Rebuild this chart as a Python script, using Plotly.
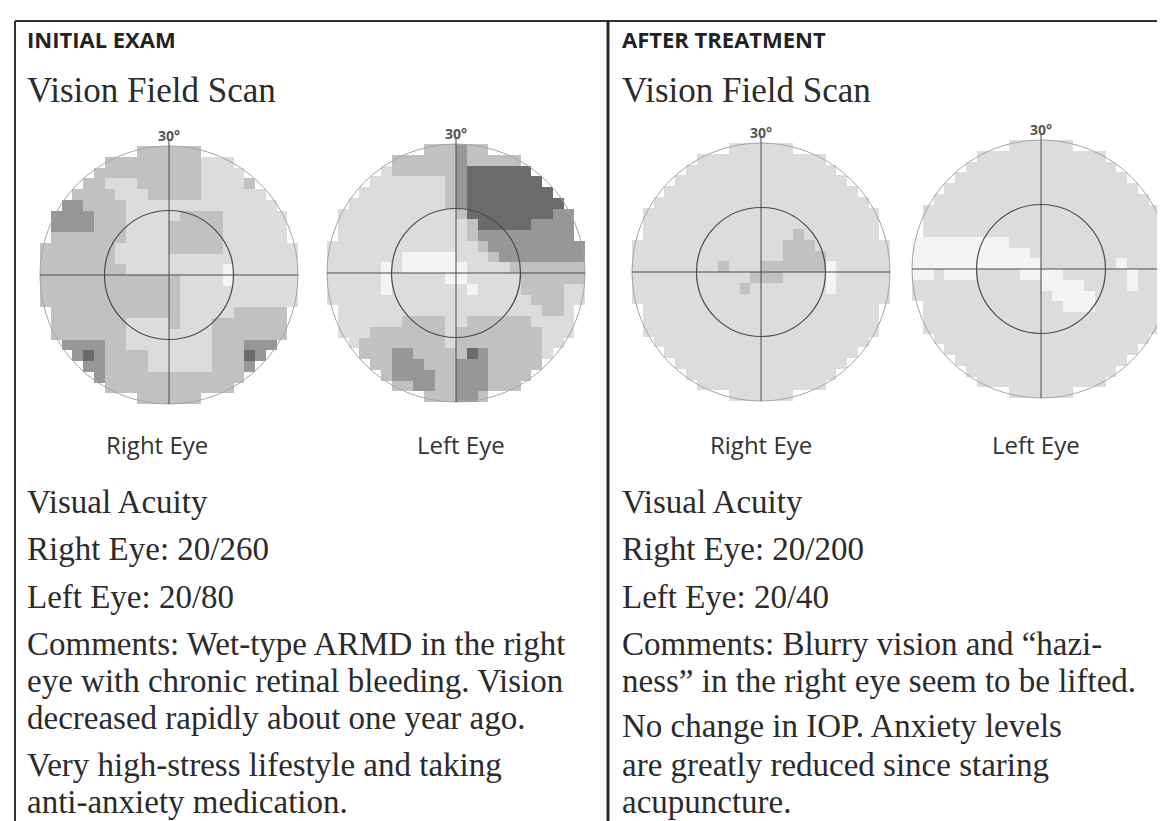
import plotly.graph_objects as go

W, H = 1165, 821

# grey levels of the field scans, lightest to darkest
levels = ["W", "L", "M", "D", "K"]
level_colors = ["#f4f4f4", "#dcdcdc", "#c1c1c1", "#979797", "#6b6b6b"]

# 24 x 24 sensitivity grids, read row by row (top to bottom)
initial_right = [
    "MMMMMMMMMMMMMMMLLLLLLLLL",
    "MMMMMMMMMMMMMMMLLLLLLLLL",
    "MMMMMMMMMMMMMMMLLLLLLLLL",
    "MMMMMMLLLMMMMMMLLLLMLLLL",
    "MMMMMMMLLLMMMMMLLLLLLLLL",
    "MMDDMMMMLLLLLLLLLLLLLLLL",
    "MDDDDMMMLLLLLMMMMLLLLLLL",
    "MDDDDMMMLLLLMMMMMLLLLLLL",
    "MMMMMMMMLLLLMMMMMLLLLLLL",
    "MMMMMMMLLLLLMMMMMLLLLLLL",
    "MMMMMMMLLLLLLLLLLLLLLLLL",
    "MMMMMMMMLLLLLLLLLWLLLLLL",
    "MMMMMMMMMMMMMLLLLWLLLLLL",
    "MMMMMMMMMMMMMLLLLLLLLLLL",
    "MMMMMMMMMMMMMLLLLLLLLLLL",
    "MMMMMMMMMMMMMLLLLLMMMMMM",
    "MMMMMMMMLLLLMLLLMMMMMMMM",
    "MMMMMMMMLLLLLLLLMMMMMMMM",
    "MDDDDDMMLLLLLLLLMMMDDDDM",
    "MMDDKDMMMMLLLLLLMMMKDDMM",
    "MMMDDDMMMMLLLLLLMMMDDMMM",
    "MMMMMDMMMMMMMMMMMMMMMMMM",
    "MMMMMMMMMMMMMMMMMMMMMMMM",
    "MMMMMMMMMMMMMMMMMMMMMMMM",
]

initial_left = [
    "MMMMMMMMMMMMDMMMMMMMMMMM",
    "LLLLLLMMMMMMDMMMMMLLLLLL",
    "LLLLLLMMMMMMDKKKKKKLLLLL",
    "LLLLLLLLLLLMDKKKKKKKLLLL",
    "LLLLLLLLLLLMDKKKKKKKKLLL",
    "LLLLLLLLLLLMDKKKKKKKKKLL",
    "LLLLLLLLLLLLMKKKKKKKKDDD",
    "LLLLLLLLLLLLLMKKKKKDDDDD",
    "LLLLLLLLLLLLLMDDDDDDDDDD",
    "LLLLLLLLLLLLLLMDDDDDDDDD",
    "LLLLLLLWWWWWLLLMDDDDDDDD",
    "LLLLLWLWWWWWWLLLLMMMMMMM",
    "LLLLLWLLLLLWWLLLLLMMMMMM",
    "LLLLLWLLLLLLLWLLLLMMMMLL",
    "LLLLLLLLLLLLLLLLLLLMMMLL",
    "LLLLLLLLLLLLLLLLLLLLMMLL",
    "LLLLLLLMMMMLLMMMMMMLLLLL",
    "LLLLMMMMMMMLMMMMMMMMLLLL",
    "LLLMMMMMMMMLMMMMMMMMLLLL",
    "LLLMMMDDMMMMMKDMMMMMLLLL",
    "LLLMMMDDDMMMDDDMMMMMLLLL",
    "LLLLLMDDDDMMDDDMMMMLLLLL",
    "LLLLLLMMDDMMDDDMMMLLLLLL",
    "MMMMMMMMMMMMDDMMMMMMMMMM",
]

after_right = [
    "LLLLLLLLLLLLLLLLLLLLLLLL",
    "LLLLLLLLLLLLLLLLLLLLLLLL",
    "LLLLLLLLLLLLLLLLLLLLLLLL",
    "LLLLLLLLLLLLLLLLLLLLLLLL",
    "LLLLLLLLLLLLLLLLLLLLLLLL",
    "LLLLLLLLLLLLLLLLLLLLLLLL",
    "LLLLLLLLLLLLLLLLLLLLLLLL",
    "LLLLLLLLLLLLLLLLLLLLLLLL",
    "LLLLLLLLLLLLLLLMLLLLLLLL",
    "LLLLLLLLLLLLLLMMMLLLLLLL",
    "LLLLLLLLLLLLLLMMMMLLLLLL",
    "LLLLLLLLMLLLMMMMMMWLLLLL",
    "LLLLLLLLLLLMMMLLLLWLLLLL",
    "LLLLLLLLLLMLLLLLLLWLLLLL",
    "LLLLLLLLLLLLLLLLLLLLLLLL",
    "LLLLLLLLLLLLLLLLLLLLLLLL",
    "LLLLLLLLLLLLLLLLLLLLLLLL",
    "LLLLLLLLLLLLLLLLLLLLLLLL",
    "LLLLLLLLLLLLLLLLLLLLLLLL",
    "LLLLLLLLLLLLLLLLLLLLLLLL",
    "LLLLLLLLLLLLLLLLLLLLLLLL",
    "LLLLLLLLLLLLLLLLLLLLLLLL",
    "LLLLLLLLLLLLLLLLLLLLLLLL",
    "LLLLLLLLLLLLLLLLLLLLLLLL",
]

after_left = [
    "LLLLLLLLLLLLLLLLLLLLLLLL",
    "LLLLLLLLLLLLLLLLLLLLLLLL",
    "LLLLLLLLLLLLLLLLLLLLLLLL",
    "LLLLLLLLLLLLLLLLLLLLLLLL",
    "LLLLLLLLLLLLLLLLLLLLLLLL",
    "LLLLLLLLLLLLLLLLLLLLLLLL",
    "LLLLLLLLLLLLLLLLLLLLLLLL",
    "LLLLLLLLLLLLLLLLLLLLLLLL",
    "LLLLLLLLLLLLLLLLLLLLLLLL",
    "WWWWWWWWWLLLLLLLLLLLLLLL",
    "WWWWWWWWWWWLLLLLLLLLLLLL",
    "WWWWWWWWWWWWLLLLLLLWLLLL",
    "WWLWWWLLLLWWWWLLLLLLWLLL",
    "LLLLLLLLLLLLWWWWLLLLWLLL",
    "LLLLLLLLLLLLLWWWWLLLLLLL",
    "LLLLLLLLLLLLLLWWWLLLLLLL",
    "LLLLLLLLLLLLLLLLLLLLLLLL",
    "LLLLLLLLLLLLLLLLLLLLLLLL",
    "LLLLLLLLLLLLLLLLLLLLLLLL",
    "LLLLLLLLLLLLLLLLLLLLLLLL",
    "LLLLLLLLLLLLLLLLLLLLLLLL",
    "LLLLLLLLLLLLLLLLLLLLLLLL",
    "LLLLLLLLLLLLLLLLLLLLLLLL",
    "LLLLLLLLLLLLLLLLLLLLLLLL",
]

eye_grids = [initial_right, initial_left, after_right, after_left]
eye_names = ["Right Eye", "Left Eye", "Right Eye", "Left Eye"]
scan_extent = "30°"

column_titles = ["INITIAL EXAM", "AFTER TREATMENT"]
section_title = "Vision Field Scan"
left_notes = [
    "Visual Acuity",
    "Right Eye: 20/260",
    "Left Eye: 20/80",
    "Comments: Wet-type ARMD in the right",
    "eye with chronic retinal bleeding. Vision",
    "decreased rapidly about one year ago.",
    "Very high-stress lifestyle and taking",
    "anti-anxiety medication.",
]
right_notes = [
    "Visual Acuity",
    "Right Eye: 20/200",
    "Left Eye: 20/40",
    "Comments: Blurry vision and \u201chazi-",
    "ness\u201d in the right eye seem to be lifted.",
    "No change in IOP. Anxiety levels",
    "are greatly reduced since staring",
    "acupuncture.",
]

# layout (pixels)
eye_cx = [161, 448, 753, 1033]
eye_cy = [267, 265, 264, 261]
label_dx = [-12, 5, 0, -5]
R = 129
col_x = [17, 612]
divider_x = 600
left_baselines = [505, 552, 600, 647, 684, 721, 768, 805]
right_baselines = [505, 552, 600, 647, 684, 729, 768, 805]

SERIF = "Liberation Serif"
SANS = "Open Sans"
INK = "#2b2b2b"
LINE = "#4a4a4a"

n = len(levels)
colorscale = []
for k, c in enumerate(level_colors):
    colorscale += [[k / n, c], [(k + 1) / n, c]]

fig = go.Figure()
shapes = []
annotations = []


def text(x, baseline, s, size, family, anchor="left", color=INK):
    annotations.append(dict(
        x=x, y=baseline - 0.34 * size, xref="x", yref="y", text=s,
        showarrow=False, xanchor=anchor, yanchor="middle",
        font=dict(family=family, size=size, color=color),
    ))


for grid, cx, cy, name, ldx in zip(eye_grids, eye_cx, eye_cy, eye_names, label_dx):
    N = len(grid)
    s = 2 * R / N
    z = []
    for i, row in enumerate(grid):
        v = -1 + (i + 0.5) * 2 / N
        zr = []
        for j, ch in enumerate(row):
            u = -1 + (j + 0.5) * 2 / N
            zr.append(levels.index(ch) if u * u + v * v <= 1.0 else None)
        z.append(zr)
    fig.add_trace(go.Heatmap(
        z=z, x0=cx - R + s / 2, dx=s, y0=cy - R + s / 2, dy=s,
        colorscale=colorscale, zmin=-0.5, zmax=n - 0.5,
        showscale=False, hoverinfo="skip",
    ))
    shapes.append(dict(type="circle", x0=cx - R, x1=cx + R, y0=cy - R, y1=cy + R,
                       line=dict(color="#a5a5a5", width=1)))
    shapes.append(dict(type="circle", x0=cx - R / 2, x1=cx + R / 2,
                       y0=cy - R / 2, y1=cy + R / 2,
                       line=dict(color=LINE, width=1.2)))
    shapes.append(dict(type="line", x0=cx - R, x1=cx + R, y0=cy, y1=cy,
                       line=dict(color=LINE, width=1)))
    shapes.append(dict(type="line", x0=cx, x1=cx, y0=cy - R - 6, y1=cy + R,
                       line=dict(color=LINE, width=1)))
    text(cx, cy - R - 6, "<b>" + scan_extent + "</b>", 14, SANS, anchor="center",
         color="#555555")
    text(cx + ldx, 445, name, 24, SANS, anchor="center", color="#333333")

# frame and divider
shapes.append(dict(type="line", x0=7, x1=W, y0=13, y1=13, line=dict(color="#333333", width=2)))
shapes.append(dict(type="line", x0=7, x1=7, y0=13, y1=H, line=dict(color="#333333", width=2)))
shapes.append(dict(type="line", x0=divider_x, x1=divider_x, y0=13, y1=H,
                   line=dict(color="#2a2a2a", width=3)))

for x, title, notes, baselines in zip(col_x, column_titles, [left_notes, right_notes],
                                      [left_baselines, right_baselines]):
    text(x, 38, "<b>" + title + "</b>", 22, SANS, color="#222222")
    text(x, 94, section_title, 35, SERIF)
    for s, b in zip(notes, baselines):
        text(x, b, s, 33, SERIF)

fig.update_layout(
    width=W, height=H,
    margin=dict(l=0, r=0, t=0, b=0),
    paper_bgcolor="white", plot_bgcolor="white",
    xaxis=dict(range=[0, W], visible=False, fixedrange=True),
    yaxis=dict(range=[H, 0], visible=False, fixedrange=True),
    shapes=shapes, annotations=annotations,
    showlegend=False,
)

fig.write_html("out.html")
